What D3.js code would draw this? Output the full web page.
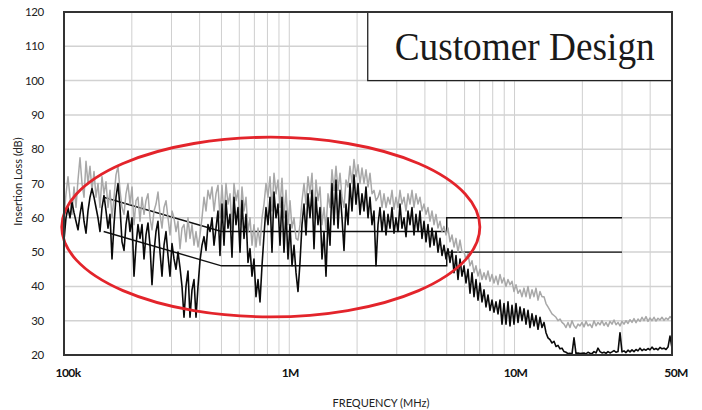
<!DOCTYPE html>
<html>
<head>
<meta charset="utf-8">
<script src="https://cdn.jsdelivr.net/npm/d3@7"></script>
<style>
  body { margin: 0; background: #fff; }
  svg { display: block; }
</style>
</head>
<body>
<div id="container"></div>
<script>
// Sweep runs from 100 kHz to 50 MHz, one reading per sweep step
const SWEEP_START_HZ = 100e3;
const SWEEP_STOP_HZ = 50e6;

// Upper (grey) trace, dB
const greyTrace = [
  60, 67, 72, 66, 61, 69, 63, 71, 77.5, 70,
  66, 76.5, 70, 75, 68, 73.5, 66, 70, 63, 72,
  67, 70.5, 63, 68, 60, 66, 72.5, 75, 68, 63,
  61, 67, 70, 64, 69, 58, 65, 66, 59, 66,
  61, 65, 67, 60, 56.5, 62, 64, 67.5, 61, 57,
  63, 65, 60, 55, 62, 60, 56, 59, 51, 57,
  58, 53, 60, 54, 58, 52, 56, 51.5, 55, 60,
  66, 62, 68, 65.5, 69, 62, 67, 69.5, 60, 69.5,
  60, 70, 64, 67, 57, 70, 65, 68, 58, 69,
  62, 66, 56, 60, 52, 58, 51.5, 57, 52, 60,
  64, 70, 66, 72, 62, 73, 67, 71, 63, 71.5,
  60, 68, 58, 65, 57, 60, 54, 53.5, 58, 65,
  70, 64, 72, 67, 73, 60, 71, 65, 69, 58,
  63, 56.5, 67, 63, 74, 68, 75, 68, 73, 66,
  63, 71, 69, 75, 70, 77, 72, 75.5, 70, 74.5,
  70, 74, 69, 73, 67, 68, 65, 66, 68, 63,
  67, 63, 66, 64, 68, 62.5, 66, 63, 68, 64,
  66, 62, 67, 64, 68, 63, 67, 64, 66, 62,
  64, 61, 63, 59, 62, 58, 61, 57, 59, 56,
  57.5, 55, 57, 53, 55, 51.5, 54, 50, 53.5, 50,
  50, 48, 49.5, 46, 47.5, 44, 46, 43, 45, 42,
  44, 42, 44.5, 41.5, 43.5, 41, 43, 40.5, 43.5, 41,
  42.5, 40, 42, 40.5, 41.5, 38.5, 40.5, 38, 39, 37,
  39.5, 37, 40, 36.5, 39, 37, 39.5, 36, 38.5, 37,
  37, 35, 34, 33, 32, 31.5, 31, 30, 30.5, 29.5,
  29, 28, 29.5, 28, 30, 28.5, 27.8, 29, 28.5, 29.5,
  28.2, 29.8, 28.5, 29, 28, 30, 28.5, 29.5, 28.8, 30,
  28.6, 29.5, 28.3, 29.8, 29, 30.2, 28.8, 29.5, 28.5, 29.8,
  29, 30, 29.2, 30.3, 29.5, 30.6, 29.4, 30.5, 29.8, 31,
  30, 31.2, 29.8, 30.8, 30, 31, 29.9, 30.7, 30.2, 31, 30.1, 30.8, 30.3, 31.2, 30.6
];

// Lower (black) trace, dB
const blackTrace = [
  53.5, 60, 63, 60, 64.5, 61.5, 59, 56.5, 61, 64.5,
  59, 55.5, 62, 66, 68.5, 66, 63, 60, 56, 63,
  66.5, 62, 57, 61, 48, 58, 66, 70, 63, 53,
  50.5, 58, 62, 56, 60, 43, 52, 58, 54, 58,
  48, 55, 58.5, 52, 40.5, 50, 56, 59, 50, 43,
  52, 56, 49, 43, 52.5, 48, 45, 50, 45.5, 40,
  31, 40, 44.5, 31, 39, 42, 31, 40, 47.5, 52,
  54.5, 50.5, 58, 56, 60, 52, 57, 62, 49, 64,
  52, 65, 57, 61, 48.5, 66, 58, 63, 50, 65,
  54, 61, 47, 51, 43, 48, 37, 42, 35.5, 46,
  55, 63, 58, 66, 50, 67.5, 60, 64, 52, 66,
  50, 62, 48, 58, 46, 52, 44, 38.5, 47, 58,
  64, 55, 67, 60, 68, 51, 66, 58, 63, 48,
  56, 43, 60, 52, 70, 58, 71, 57, 68, 60,
  50.5, 64, 58, 70, 62, 72.5, 64, 70, 61, 67,
  62, 69, 60, 66, 58, 62, 46, 58, 63, 56,
  62, 55, 61, 57, 63, 55.5, 60, 56, 64, 57,
  60, 54.5, 62, 58, 63, 55, 61, 56, 62, 54,
  59, 53, 58, 51.5, 57, 52, 56, 50, 54, 49,
  52, 48, 51, 47, 50.5, 44, 49, 42, 48, 43,
  46, 41, 45, 38, 44, 37, 42, 36, 41, 35.5,
  39, 34, 37.5, 33, 36, 32.5, 35.5, 32, 36, 29,
  35, 29, 35.5, 28.5, 34.5, 29, 35, 29.5, 34, 30,
  33.5, 29, 33, 28, 32, 28.5, 31.5, 27.5, 31, 28,
  29.5, 26.5, 25, 24.5, 23.5, 24, 22.5, 22.8, 21.8, 22,
  21, 20.8, 20.4, 20.5, 20.3, 25, 20.4, 20.6, 20.4, 20.5,
  20.6, 20.3, 20.8, 20.5, 20.4, 21, 20.6, 22, 21, 20.6,
  20.8, 20.5, 21, 20.6, 20.9, 21.3, 20.8, 21, 26.5, 20.9,
  21.2, 20.7, 21.4, 20.9, 21.5, 21, 21.6, 21.2, 22, 21.3,
  21.7, 21.4, 21.9, 21.5, 22.3, 21.6, 21.9, 21.5, 22.2, 21.8, 22, 21.6, 22.3, 25.5, 22
];

// Conducted emission limits (MHz, dB)
const qpLimitMHz = [0.15, 0.5, 5, 5, 30];
const qpLimitDb = [66, 56, 56, 60, 60];
const avgLimitMHz = [0.15, 0.5, 5, 5, 30];
const avgLimitDb = [56, 46, 46, 50, 50];

const yTicks = [20, 30, 40, 50, 60, 70, 80, 90, 100, 110, 120];
const xTickValues = [1e5, 1e6, 1e7, 5e7];
const xTickLabels = ['100k', '1M', '10M', '50M'];

// Red highlight ellipse, given in log-frequency / dB space
const highlightCentreHz = 0.828e6;
const highlightCentreDb = 57.3;
const highlightHalfDecades = 0.928;
const highlightHalfDb = 26.2;

const WIDTH = 702;
const HEIGHT = 410;
const margin = { top: 12, right: 30, bottom: 55, left: 64 };

const svg = d3.select('#container').append('svg')
  .attr('width', WIDTH)
  .attr('height', HEIGHT);

const x = d3.scaleLog()
  .domain([SWEEP_START_HZ, SWEEP_STOP_HZ])
  .range([margin.left, WIDTH - margin.right]);
const y = d3.scaleLinear()
  .domain([20, 120])
  .range([HEIGHT - margin.bottom, margin.top]);

// Frequency of each sweep step
const sweepFreq = (i, n) => SWEEP_START_HZ * Math.pow(SWEEP_STOP_HZ / SWEEP_START_HZ, i / (n - 1));

// Grid: every 1-9 step per decade
const gridFreqs = x.ticks().filter(f => f > SWEEP_START_HZ && f < SWEEP_STOP_HZ);
svg.append('g')
  .selectAll('line')
  .data(gridFreqs)
  .join('line')
  .attr('x1', d => x(d)).attr('x2', d => x(d))
  .attr('y1', y(120)).attr('y2', y(20))
  .style('stroke', '#cfcfcf')
  .style('stroke-width', 1);

svg.append('g')
  .selectAll('line')
  .data(yTicks.slice(1, -1))
  .join('line')
  .attr('x1', x.range()[0]).attr('x2', x.range()[1])
  .attr('y1', d => y(d)).attr('y2', d => y(d))
  .style('stroke', '#d2d2d2')
  .style('stroke-width', 1.5);

// Limit lines
const limitLine = d3.line()
  .x(d => x(d[0] * 1e6))
  .y(d => y(d[1]));
[[qpLimitMHz, qpLimitDb], [avgLimitMHz, avgLimitDb]].forEach(([fs, dbs]) => {
  svg.append('path')
    .attr('d', limitLine(fs.map((f, i) => [f, dbs[i]])))
    .style('fill', 'none')
    .style('stroke', '#111')
    .style('stroke-width', 1.4);
});

// Measured traces
const traceLine = d3.line()
  .x(d => x(d.f))
  .y(d => y(Math.max(20, d.db)));
const toPoints = arr => arr.map((db, i) => ({ f: sweepFreq(i, arr.length), db }));

svg.append('path')
  .attr('d', traceLine(toPoints(greyTrace)))
  .style('fill', 'none')
  .style('stroke', '#a8a8a8')
  .style('stroke-width', 1.5)
  .style('stroke-linejoin', 'round');

svg.append('path')
  .attr('d', traceLine(toPoints(blackTrace)))
  .style('fill', 'none')
  .style('stroke', '#0a0a0a')
  .style('stroke-width', 1.6)
  .style('stroke-linejoin', 'round');

// Highlight ellipse
const ecx = x(highlightCentreHz);
const erx = x(highlightCentreHz * Math.pow(10, highlightHalfDecades)) - ecx;
const ecy = y(highlightCentreDb);
const ery = y(highlightCentreDb - highlightHalfDb) - ecy;
svg.append('ellipse')
  .attr('cx', ecx).attr('cy', ecy)
  .attr('rx', erx).attr('ry', ery)
  .style('fill', 'none')
  .style('stroke', '#e3242b')
  .style('stroke-width', 2.8);

// Title box in the top right corner
const boxLeft = x(2.23e6);
const boxRight = x.range()[1];
svg.append('rect')
  .attr('x', boxLeft)
  .attr('y', y(120))
  .attr('width', boxRight - boxLeft)
  .attr('height', y(100) - y(120))
  .style('fill', '#fff')
  .style('stroke', '#222')
  .style('stroke-width', 1.3);
svg.append('text')
  .attr('x', boxLeft + 27)
  .attr('y', y(120) + 48)
  .attr('textLength', 260)
  .attr('lengthAdjust', 'spacingAndGlyphs')
  .style('font-family', '"Liberation Serif", "DejaVu Serif", serif')
  .style('font-size', '41px')
  .style('fill', '#1a1a1a')
  .text('Customer Design');

// Plot frame
svg.append('rect')
  .attr('x', x.range()[0])
  .attr('y', y(120))
  .attr('width', x.range()[1] - x.range()[0])
  .attr('height', y(20) - y(120))
  .style('fill', 'none')
  .style('stroke', '#333')
  .style('stroke-width', 2);

// Tick labels
svg.append('g')
  .selectAll('text')
  .data(yTicks)
  .join('text')
  .attr('x', 44)
  .attr('y', d => y(d) + 4)
  .attr('text-anchor', 'end')
  .style('font-family', 'Lato, "Noto Sans", sans-serif')
  .style('font-size', '11.5px')
  .style('letter-spacing', '-0.3px')
  .style('fill', '#222')
  .text(d => d);

svg.append('g')
  .selectAll('text')
  .data(xTickValues)
  .join('text')
  .attr('x', (d, i) => x(d) + (i === 0 ? 4 : i === 3 ? 4 : 1))
  .attr('y', 377)
  .attr('text-anchor', 'middle')
  .style('font-family', 'Lato, "Noto Sans", sans-serif')
  .style('font-size', '12px')
  .style('font-weight', 700)
  .style('letter-spacing', '-0.6px')
  .style('fill', '#111')
  .text((d, i) => xTickLabels[i]);

// Axis titles
svg.append('text')
  .attr('x', 381)
  .attr('y', 407)
  .attr('text-anchor', 'middle')
  .style('font-family', 'Lato, "Noto Sans", sans-serif')
  .style('font-size', '11px')
  .style('fill', '#222')
  .text('FREQUENCY (MHz)');

svg.append('text')
  .attr('transform', `translate(22, ${(y(20) + y(120)) / 2 - 2}) rotate(-90)`)
  .attr('text-anchor', 'middle')
  .style('font-family', 'Lato, "Noto Sans", sans-serif')
  .style('font-size', '11px')
  .style('fill', '#222')
  .text('Insertion Loss (dB)');
</script>
</body>
</html>
